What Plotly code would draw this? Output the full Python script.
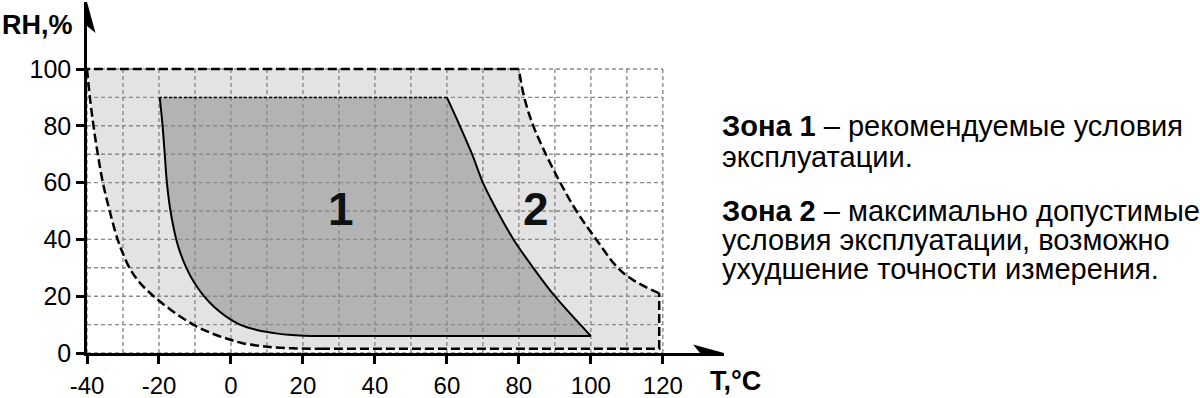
import plotly.graph_objects as go

# ---------------- data ----------------
# Zone 2 (maximum permissible): left/bottom dashed curve, from top-left corner downwards
zone2_left_T = [-40, -39.2, -38.2, -37, -35.6, -33.7, -31.5, -30, -28.2, -25.5, -21.5, -16.5,
                -10.5, -5.5, -1, 3, 8, 12, 18, 25]
zone2_left_RH = [100, 90, 80, 70, 60, 50, 40, 35, 30, 25, 20, 15,
                 10, 7, 5, 3.5, 2.5, 2, 1.6, 1.5]
# Zone 2: bottom-right corner and right dashed curve, going up to the top edge
zone2_right_T = [119, 119, 112, 107.5, 101.5, 96, 91.5, 87.5, 84, 81.5, 80]
zone2_right_RH = [1.5, 21, 25.5, 30, 40, 50, 60, 70, 80, 90, 100]

# Zone 1 (recommended): left curve from top-left corner down to the bottom edge
zone1_left_T = [-19.8, -19.0, -18.4, -17.8, -16.8, -15.2, -14.0, -12.4, -10.3, -7.5, -4.5,
                -1.5, 2.5, 7.5, 12, 17, 22]
zone1_left_RH = [90, 80, 70, 60, 50, 40, 35, 30, 25, 20, 16,
                 13, 10, 8, 7, 6.3, 6]
# Zone 1: bottom-right corner and right curve up to the top edge
zone1_right_T = [100, 90, 84, 78.5, 74, 70, 67, 63.6, 60]
zone1_right_RH = [6, 20, 30, 40, 50, 60, 70, 80, 90]

x_ticks = [-40, -20, 0, 20, 40, 60, 80, 100, 120]
y_ticks = [0, 20, 40, 60, 80, 100]
grid_T = list(range(-40, 121, 10))
grid_RH = list(range(0, 101, 10))

zone_labels = ["1", "2"]
zone_label_T = [30.5, 84.7]
zone_label_RH = [49, 49]

legend_lines = [
    "<b>Зона 1</b> – рекомендуемые условия",
    "эксплуатации.",
    "<b>Зона 2</b> – максимально допустимые",
    "условия эксплуатации, возможно",
    "ухудшение точности измерения.",
]

# ---------------- layout constants ----------------
W, H = 1200, 398
ML, MR, MT, MB = 87, 476, 2, 45
XR = [-40, 137]
YR = [0, 123.6]
PW = W - ML - MR
PH = H - MT - MB
FONT = "Liberation Sans, Arial, sans-serif"


def px2paper_x(px):
    return (px - ML) / PW


def py2paper_y(py):
    return (H - MB - py) / PH


zone2_T = zone2_left_T + zone2_right_T + [zone2_left_T[0]]
zone2_RH = zone2_left_RH + zone2_right_RH + [zone2_left_RH[0]]
zone1_T = zone1_left_T + zone1_right_T + [zone1_left_T[0]]
zone1_RH = zone1_left_RH + zone1_right_RH + [zone1_left_RH[0]]

fig = go.Figure()

# zone fills
fig.add_trace(go.Scatter(x=zone2_T, y=zone2_RH, fill="toself", fillcolor="#e3e3e3",
                         mode="lines", line=dict(width=0), hoverinfo="skip"))
fig.add_trace(go.Scatter(x=zone1_T, y=zone1_RH, fill="toself",
                         fillcolor="#b3b3b3", mode="lines", line=dict(width=0), hoverinfo="skip"))

# grid (drawn above fills)
grid_line = dict(color="#8a8a8a", width=1.4, dash="4px,3px")
for t in grid_T:
    fig.add_trace(go.Scatter(x=[t, t], y=[grid_RH[0], grid_RH[-1]], mode="lines",
                             line=grid_line, hoverinfo="skip"))
for rh in grid_RH:
    fig.add_trace(go.Scatter(x=[grid_T[0], grid_T[-1]], y=[rh, rh], mode="lines",
                             line=grid_line, hoverinfo="skip"))

# zone 2 outline (dashed)
dash2 = dict(color="black", width=2.5, dash="9px,4px")
fig.add_trace(go.Scatter(x=zone2_left_T, y=zone2_left_RH, mode="lines", line_shape="spline",
                         line=dash2, hoverinfo="skip"))
fig.add_trace(go.Scatter(x=[zone2_left_T[-1], zone2_right_T[0], zone2_right_T[1]],
                         y=[zone2_left_RH[-1], zone2_right_RH[0], zone2_right_RH[1]],
                         mode="lines", line=dash2, hoverinfo="skip"))
fig.add_trace(go.Scatter(x=zone2_right_T[1:], y=zone2_right_RH[1:], mode="lines",
                         line_shape="spline", line=dash2, hoverinfo="skip"))
fig.add_trace(go.Scatter(x=[zone2_right_T[-1], zone2_left_T[0]],
                         y=[zone2_right_RH[-1], zone2_left_RH[0]],
                         mode="lines", line=dash2, hoverinfo="skip"))

# zone 1 outline (solid, dotted top)
solid1 = dict(color="black", width=2)
fig.add_trace(go.Scatter(x=zone1_left_T, y=zone1_left_RH, mode="lines", line_shape="spline",
                         line=solid1, hoverinfo="skip"))
fig.add_trace(go.Scatter(x=[zone1_left_T[-1], zone1_right_T[0]],
                         y=[zone1_left_RH[-1], zone1_right_RH[0]],
                         mode="lines", line=solid1, hoverinfo="skip"))
fig.add_trace(go.Scatter(x=zone1_right_T, y=zone1_right_RH, mode="lines", line_shape="spline",
                         line=solid1, hoverinfo="skip"))
fig.add_trace(go.Scatter(x=[zone1_right_T[-1], zone1_left_T[0]],
                         y=[zone1_right_RH[-1], zone1_left_RH[0]], mode="lines",
                         line=dict(color="black", width=1.5, dash="3px,2px"), hoverinfo="skip"))

# zone numbers
fig.add_trace(go.Scatter(x=zone_label_T, y=zone_label_RH, mode="text", text=zone_labels,
                         textfont=dict(family=FONT, size=46, color="#111111", weight="bold"),
                         textposition="middle center", hoverinfo="skip"))

# arrowheads on axes
fig.add_shape(type="path", xref="x", yref="y", xsizemode="pixel", ysizemode="pixel",
              xanchor=XR[1], yanchor=0, path="M0,0 L-31,8.5 L-24,0 L-31,-8.5 Z",
              fillcolor="black", line=dict(width=0))
fig.add_shape(type="path", xref="x", yref="y", xsizemode="pixel", ysizemode="pixel",
              xanchor=XR[0], yanchor=YR[1], path="M0,0 L-8.5,-31 L0,-24 L8.5,-31 Z",
              fillcolor="black", line=dict(width=0))

# axis titles
fig.add_annotation(xref="paper", yref="paper", x=px2paper_x(0), y=py2paper_y(25),
                   xanchor="left", yanchor="middle", text="<b>RH,%</b>", showarrow=False,
                   font=dict(family=FONT, size=27, color="black"))
fig.add_annotation(xref="paper", yref="paper", x=px2paper_x(708), y=py2paper_y(381),
                   xanchor="left", yanchor="middle", text="<b>T,°C</b>", showarrow=False,
                   font=dict(family=FONT, size=27, color="black"))

# right-hand explanation text
line_py = [126, 157, 211, 240, 269]
for txt, py in zip(legend_lines, line_py):
    fig.add_annotation(xref="paper", yref="paper", x=px2paper_x(720), y=py2paper_y(py),
                       xanchor="left", yanchor="middle", text=txt, showarrow=False,
                       font=dict(family=FONT, size=29, color="black"))

fig.update_layout(
    width=W, height=H,
    margin=dict(l=ML, r=MR, t=MT, b=MB, pad=0, autoexpand=False),
    paper_bgcolor="white", plot_bgcolor="white",
    showlegend=False,
    font=dict(family=FONT, color="black"),
)
fig.update_xaxes(range=XR, tickmode="array", tickvals=x_ticks, ticktext=[str(v) for v in x_ticks],
                 showgrid=False, zeroline=False, showline=True, linecolor="black", linewidth=2.5,
                 ticks="outside", ticklen=8, tickwidth=2.5, tickcolor="black", automargin=False,
                 tickfont=dict(family=FONT, size=24, color="black"), ticklabelstandoff=1)
fig.update_yaxes(range=YR, tickmode="array", tickvals=y_ticks, ticktext=[str(v) for v in y_ticks],
                 showgrid=False, zeroline=False, showline=True, linecolor="black", linewidth=2.5,
                 ticks="outside", ticklen=8, tickwidth=2.5, tickcolor="black", automargin=False,
                 tickfont=dict(family=FONT, size=25, color="black"), ticklabelstandoff=0)

fig.write_html("out.html")
